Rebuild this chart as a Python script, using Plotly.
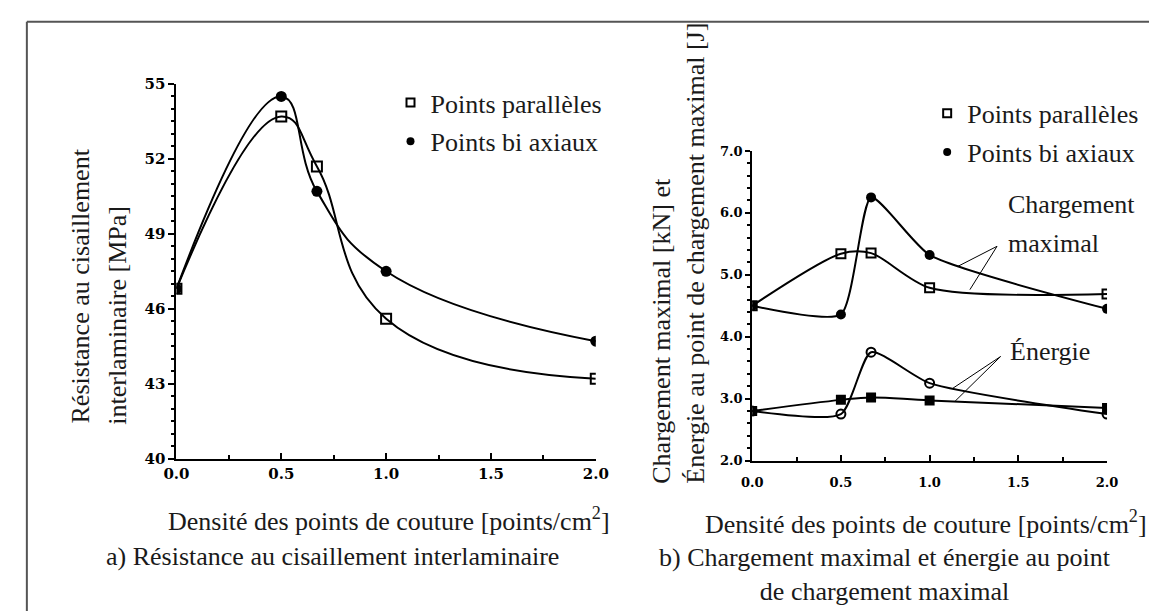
import plotly.graph_objects as go

# ---------------- data ----------------
density = [0.0, 0.5, 0.67, 1.0, 2.0]

ilss_parallel = [46.8, 53.7, 51.7, 45.6, 43.2]
ilss_biaxial = [46.8, 54.5, 50.7, 47.5, 44.7]

load_parallel = [4.50, 5.34, 5.35, 4.79, 4.69]
load_biaxial = [4.50, 4.36, 6.25, 5.32, 4.45]
energy_parallel = [2.80, 2.98, 3.02, 2.97, 2.85]
energy_biaxial = [2.80, 2.75, 3.75, 3.25, 2.75]

x_ticks = [0.0, 0.5, 1.0, 1.5, 2.0]
y_left_ticks = [40, 43, 46, 49, 52, 55]
y_right_ticks = [2.0, 3.0, 4.0, 5.0, 6.0, 7.0]

W, H = 1157, 612
SERIF = "Liberation Serif"
TXT = "#1a1a1a"


def px(x):
    return x / W


def py(y):
    return 1 - y / H


def ln(sm):
    return dict(color="black", width=2, shape="spline", smoothing=sm)


fig = go.Figure()

# left panel
fig.add_trace(go.Scatter(x=density, y=ilss_biaxial, mode="lines+markers", line=ln(1.3),
                         marker=dict(symbol="circle", size=11, color="black"),
                         xaxis="x", yaxis="y", showlegend=False))
fig.add_trace(go.Scatter(x=density, y=ilss_parallel, mode="lines+markers", line=ln(1.3),
                         marker=dict(symbol="square-open", size=10, color="black",
                                     line=dict(width=2, color="black")),
                         xaxis="x", yaxis="y", showlegend=False))

# right panel
fig.add_trace(go.Scatter(x=density, y=load_biaxial, mode="lines+markers", line=ln(0.55),
                         marker=dict(symbol="circle", size=10, color="black"),
                         xaxis="x2", yaxis="y2", showlegend=False))
fig.add_trace(go.Scatter(x=density, y=load_parallel, mode="lines+markers", line=ln(0.8),
                         marker=dict(symbol="square-open", size=9, color="black",
                                     line=dict(width=2, color="black")),
                         xaxis="x2", yaxis="y2", showlegend=False))
fig.add_trace(go.Scatter(x=density, y=energy_parallel, mode="lines+markers", line=ln(1.0),
                         marker=dict(symbol="square", size=10, color="black"),
                         xaxis="x2", yaxis="y2", showlegend=False))
fig.add_trace(go.Scatter(x=density, y=energy_biaxial, mode="lines+markers", line=ln(0.6),
                         marker=dict(symbol="circle-open", size=9, color="black",
                                     line=dict(width=2, color="black")),
                         xaxis="x2", yaxis="y2", showlegend=False))

# legend entries (marker only)
for leg, xa, ya in (("legend", "x", "y"), ("legend2", "x2", "y2")):
    fig.add_trace(go.Scatter(x=[None], y=[None], mode="markers", name="Points parallèles",
                             marker=dict(symbol="square-open", size=8, color="black",
                                         line=dict(width=2, color="black")),
                             xaxis=xa, yaxis=ya, legend=leg, legendgroup=leg + "a"))
    fig.add_trace(go.Scatter(x=[None], y=[None], mode="markers", name="Points bi axiaux",
                             marker=dict(symbol="circle", size=8, color="black"),
                             xaxis=xa, yaxis=ya, legend=leg, legendgroup=leg + "b"))

tickfont_l = dict(family="DejaVu Serif", size=15, color="black", weight="bold")
tickfont_r = dict(family="DejaVu Serif", size=13, color="black", weight="bold")

common_x = dict(range=[0, 2], tickvals=x_ticks, tickformat=".1f", showline=True,
                linecolor="black", linewidth=2, ticks="inside", ticklen=6, tickwidth=2,
                tickcolor="black", showgrid=False, zeroline=False, fixedrange=True,
                minor=dict(dtick=0.25, ticks="inside", ticklen=4, tickwidth=2,
                           tickcolor="black", showgrid=False))

fig.update_layout(
    width=W, height=H, autosize=False,
    margin=dict(l=0, r=0, t=0, b=0),
    paper_bgcolor="white", plot_bgcolor="white",
    xaxis=dict(domain=[px(159), px(588)], anchor="y", tickfont=tickfont_l, **common_x),
    yaxis=dict(domain=[py(455), py(69)], anchor="x", range=[40, 55], tickvals=y_left_ticks,
               showline=True, linecolor="black", linewidth=2, ticks="outside", ticklen=6,
               tickwidth=2, tickcolor="black", showgrid=False, zeroline=False,
               tickfont=tickfont_l, fixedrange=True,
               minor=dict(dtick=0.5, ticks="outside", ticklen=3, tickwidth=1.5,
                          tickcolor="black", showgrid=False)),
    xaxis2=dict(domain=[px(748), px(1111)], anchor="y2", tickfont=tickfont_r,
                ticklabelstandoff=9, **common_x),
    yaxis2=dict(domain=[py(457), py(138)], anchor="x2", range=[2, 7], tickvals=y_right_ticks,
                tickformat=".1f", showline=True, linecolor="black", linewidth=2,
                ticks="outside", ticklen=5, tickwidth=2, tickcolor="black", showgrid=False,
                zeroline=False, tickfont=tickfont_r, fixedrange=True,
                minor=dict(dtick=0.2, ticks="outside", ticklen=3, tickwidth=1.5,
                           tickcolor="black", showgrid=False)),
    legend=dict(x=px(378), y=py(64), xanchor="left", yanchor="top",
                font=dict(family=SERIF, size=26, color=TXT), bgcolor="rgba(0,0,0,0)",
                tracegroupgap=2, itemwidth=30),
    legend2=dict(x=px(927), y=py(75), xanchor="left", yanchor="top",
                 font=dict(family=SERIF, size=26, color=TXT), bgcolor="rgba(0,0,0,0)",
                 tracegroupgap=2, itemwidth=30),
)

ann = []


def add_text(text, x, y, size=26, angle=0, xanchor="center", align="center"):
    ann.append(dict(text=text, x=px(x), y=py(y), xref="paper", yref="paper",
                    showarrow=False, textangle=angle, xanchor=xanchor, yanchor="middle",
                    align=align, font=dict(family=SERIF, size=size, color=TXT)))


xtitle = "Densité des points de couture [points/cm<sup>2</sup>]"
add_text(xtitle, 376, 518)
add_text(xtitle, 926, 521)
add_text("Résistance au cisaillement", 61, 277, angle=-90)
add_text("interlaminaire [MPa]", 99, 307, angle=-90)
add_text("Chargement maximal [kN] et<br>Énergie au point de chargement maximal [J]", 673, 243,
         angle=-90, align="left")
add_text("a) Résistance au cisaillement interlaminaire", 319, 556)
add_text("b) Chargement maximal et énergie au point<br>de chargement maximal", 884, 574)
add_text("Chargement", 1008, 193, xanchor="left")
add_text("maximal", 1008, 233, xanchor="left")
add_text("Énergie", 1010, 345, xanchor="left")
fig.update_layout(annotations=ann)

# leader lines from labels to curves (data coordinates of the right panel)
leaders = [
    ((1.38, 5.46), (1.155, 5.13)),
    ((1.38, 5.46), (1.227, 4.76)),
    ((1.40, 3.68), (1.127, 3.16)),
    ((1.40, 3.68), (1.144, 2.96)),
]
shapes = []
for (x0, y0), (x1, y1) in leaders:
    shapes.append(dict(type="line", xref="x2", yref="y2", x0=x0, y0=y0, x1=x1, y1=y1,
                       line=dict(color="black", width=1)))
# page frame
shapes.append(dict(type="line", xref="paper", yref="paper", x0=px(6), x1=1.0, y0=py(5), y1=py(5),
                   line=dict(color="#555555", width=2)))
shapes.append(dict(type="line", xref="paper", yref="paper", x0=px(6), x1=px(6), y0=py(5), y1=0,
                   line=dict(color="#555555", width=2)))
fig.update_layout(shapes=shapes)

fig.write_html("out.html")
